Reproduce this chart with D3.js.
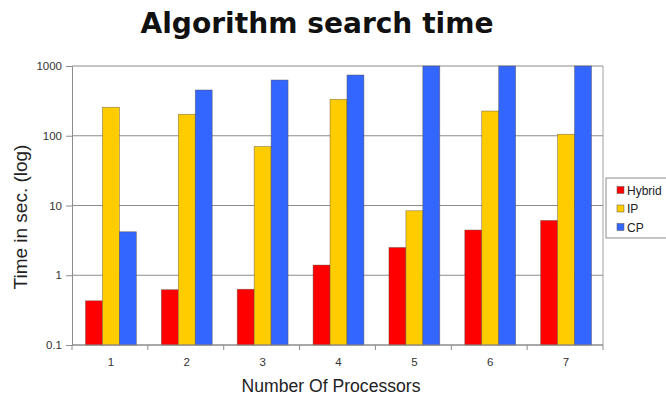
<!DOCTYPE html>
<html>
<head>
<meta charset="utf-8">
<script src="https://cdn.jsdelivr.net/npm/d3@7"></script>
<style>
  html, body { margin: 0; padding: 0; background: #fff; }
  svg { display: block; }
  text { font-family: "Liberation Sans", Arial, sans-serif; }
</style>
</head>
<body>
<svg id="chart" width="666" height="396"></svg>
<script>
// Processor counts on the x axis
const processors = ["1", "2", "3", "4", "5", "6", "7"];
// Series names and colours
const seriesNames = ["Hybrid", "IP", "CP"];
const seriesColors = ["#ff0000", "#ffcc00", "#3366ff"];
// Search time in seconds per series
const hybridTimes = [0.43, 0.62, 0.63, 1.4, 2.5, 4.45, 6.1];
const ipTimes = [256, 203, 70, 333, 8.4, 226, 105];
const cpTimes = [4.2, 453, 630, 743, 1000, 1000, 1000];
// Y axis ticks
const yTicks = [0.1, 1, 10, 100, 1000];
const yTickLabels = ["0.1", "1", "10", "100", "1000"];

const series = [hybridTimes, ipTimes, cpTimes];

const svg = d3.select("#chart");
const plot = { left: 72, right: 603, top: 66, bottom: 345 };

const x = d3.scaleBand().domain(processors).range([plot.left, plot.right]).paddingInner(0).paddingOuter(0);
const innerPad = 0.33;
const x1 = d3.scaleBand().domain(seriesNames)
  .range([x.bandwidth() * innerPad / 2 + 1, x.bandwidth() * (1 - innerPad / 2) + 1]);
const y = d3.scaleLog().domain([0.1, 1000]).range([plot.bottom, plot.top]);

// Title, sized to its full width
const title = svg.append("text")
  .attr("x", 317).attr("y", 33)
  .attr("text-anchor", "middle")
  .attr("font-weight", "bold")
  .attr("font-size", 27)
  .attr("fill", "#111")
  .style("font-family", "'DejaVu Sans', Verdana, sans-serif")
  .text("Algorithm search time");
{
  const w = title.node().getComputedTextLength();
  title.attr("font-size", 27 * 353 / w);
}

// Horizontal gridlines
svg.append("g").selectAll("line").data(yTicks).join("line")
  .attr("x1", plot.left).attr("x2", plot.right)
  .attr("y1", d => y(d)).attr("y2", d => y(d))
  .attr("stroke", "#8c8c8c").attr("stroke-width", 1);

// Right border of the plot area
svg.append("line")
  .attr("x1", plot.right).attr("x2", plot.right)
  .attr("y1", plot.top).attr("y2", plot.bottom)
  .attr("stroke", "#a0a0a0");

// Bars
const groups = svg.append("g").selectAll("g").data(processors).join("g")
  .attr("transform", d => `translate(${x(d)},0)`);
groups.selectAll("rect")
  .data((d, i) => series.map((s, k) => ({ name: seriesNames[k], value: s[i], color: seriesColors[k] })))
  .join("rect")
  .attr("x", d => x1(d.name))
  .attr("width", x1.bandwidth())
  .attr("y", d => y(d.value))
  .attr("height", d => plot.bottom - y(d.value))
  .attr("fill", d => d.color)
  .attr("stroke", "#5a4a3a")
  .attr("stroke-opacity", 0.6)
  .attr("stroke-width", 0.7);

// Y axis
const yAxis = d3.axisLeft(y).tickValues(yTicks)
  .tickFormat((d, i) => yTickLabels[i]).tickSize(6).tickPadding(4);
const gy = svg.append("g").attr("transform", `translate(${plot.left},0)`).call(yAxis);
gy.select(".domain").attr("stroke", "#8c8c8c");
gy.selectAll(".tick line").attr("stroke", "#8c8c8c");
gy.selectAll(".tick text").attr("font-size", 11.5).attr("fill", "#333")
  .style("font-family", "'Liberation Sans', Arial, sans-serif");

// X axis: labels centred on bands, ticks on band boundaries
const gx = svg.append("g").attr("transform", `translate(0,${plot.bottom})`);
gx.append("line").attr("x1", plot.left).attr("x2", plot.right)
  .attr("stroke", "#8c8c8c");
gx.selectAll("line.tk").data(processors.concat(["end"])).join("line")
  .attr("class", "tk")
  .attr("x1", (d, i) => plot.left + i * x.step())
  .attr("x2", (d, i) => plot.left + i * x.step())
  .attr("y1", 0).attr("y2", 5)
  .attr("stroke", "#8c8c8c");
gx.selectAll("text").data(processors).join("text")
  .attr("x", d => x(d) + x.bandwidth() / 2 + 1)
  .attr("y", 21)
  .attr("text-anchor", "middle")
  .attr("font-size", 11.5).attr("fill", "#333")
  .text(d => d);

// Axis titles
const xt = svg.append("text")
  .attr("x", 331).attr("y", 392)
  .attr("text-anchor", "middle")
  .attr("font-size", 16).attr("fill", "#222")
  .text("Number Of Processors");
{
  const w = xt.node().getComputedTextLength();
  xt.attr("font-size", 16 * 179 / w);
}
const yt = svg.append("text")
  .attr("transform", "translate(27,217) rotate(-90)")
  .attr("text-anchor", "middle")
  .attr("font-size", 16).attr("fill", "#222")
  .text("Time in sec. (log)");
{
  const w = yt.node().getComputedTextLength();
  yt.attr("font-size", 16 * 145 / w);
}

// Legend
const legend = svg.append("g").attr("transform", "translate(606,178)");
legend.append("rect")
  .attr("x", 0).attr("y", 0).attr("width", 80).attr("height", 60)
  .attr("fill", "#fff").attr("stroke", "#8c8c8c");
const items = legend.selectAll("g.item").data(seriesNames).join("g")
  .attr("class", "item")
  .attr("transform", (d, i) => `translate(11,${12 + i * 18.5})`);
items.append("rect")
  .attr("x", 0).attr("y", -3.5).attr("width", 7).attr("height", 7)
  .attr("fill", (d, i) => seriesColors[i])
  .attr("stroke", "#555").attr("stroke-width", 0.5);
items.append("text")
  .attr("x", 10).attr("y", 4.5)
  .attr("font-size", 12).attr("fill", "#222")
  .text(d => d);
</script>
</body>
</html>
